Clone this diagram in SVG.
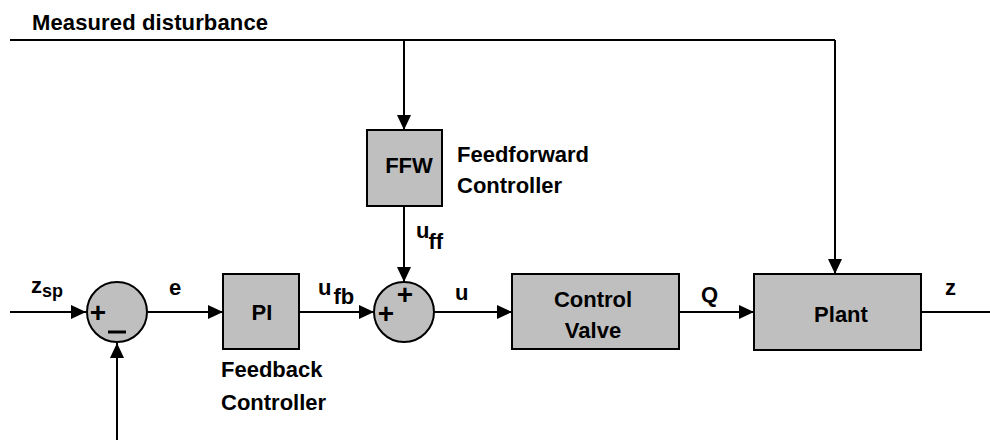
<svg xmlns="http://www.w3.org/2000/svg" width="990" height="447" viewBox="0 0 990 447">
<style>
.t{font-family:"Liberation Sans",Arial,sans-serif;font-weight:bold;font-size:22px;fill:#000}
.s{font-family:"Liberation Sans",Arial,sans-serif;font-weight:bold;font-size:18px;fill:#000}
.p{font-family:"Liberation Sans",Arial,sans-serif;font-weight:bold;font-size:28px;fill:#000}
.blk{fill:#bfbfbf;stroke:#000;stroke-width:2}
.ln{fill:none;stroke:#000;stroke-width:2}
.arr{fill:none;stroke:#000;stroke-width:2;marker-end:url(#ah)}
</style>
<defs>
<marker id="ah" markerUnits="userSpaceOnUse" markerWidth="16" markerHeight="14" refX="15" refY="7" orient="auto">
<path d="M0,0 L15,7 L0,14 Z" fill="#000"/>
</marker>
</defs>
<rect width="990" height="447" fill="#fff"/>
<g id="connectors">
<polyline class="ln" points="10,40 835,40"/>
<line class="arr" x1="404" y1="40" x2="404" y2="130"/>
<line class="arr" x1="835" y1="40" x2="835" y2="274"/>
<line class="arr" x1="10" y1="312" x2="86" y2="312"/>
<line class="arr" x1="148" y1="312" x2="223" y2="312"/>
<line class="arr" x1="299" y1="312" x2="374" y2="312"/>
<line class="arr" x1="404" y1="206" x2="404" y2="282"/>
<line class="arr" x1="434" y1="312" x2="512" y2="312"/>
<line class="arr" x1="679" y1="312" x2="754" y2="312"/>
<line class="ln" x1="921" y1="312" x2="990" y2="312"/>
<line class="arr" x1="117" y1="440" x2="117" y2="343"/>
</g>
<g id="labels">
<text class="t" x="32" y="30" textLength="236">Measured disturbance</text>
<text class="t" x="31" y="293">z<tspan class="s" dy="4">sp</tspan></text>
<text class="t" x="169" y="295">e</text>
<text class="t" x="318" y="295">u<tspan dx="2" dy="9">fb</tspan></text>
<text class="t" x="416" y="238">u<tspan dx="-1" dy="11">ff</tspan></text>
<text class="t" x="455" y="300">u</text>
<text class="t" x="701" y="302">Q</text>
<text class="t" x="945" y="295">z</text>
</g>
<g id="sum1">
<circle class="blk" cx="117" cy="312" r="30"/>
<text class="p" x="98" y="322" text-anchor="middle">+</text>
<line x1="108" y1="332" x2="126" y2="332" stroke="#000" stroke-width="3"/>
</g>
<g id="pi">
<rect class="blk" x="223" y="274" width="76" height="75"/>
<text class="t" x="262" y="320" text-anchor="middle">PI</text>
<text class="t" x="221" y="377">Feedback</text>
<text class="t" x="221" y="410">Controller</text>
</g>
<g id="ffw">
<rect class="blk" x="367" y="130" width="75" height="76"/>
<text class="t" x="409" y="173" text-anchor="middle">FFW</text>
<text class="t" x="457" y="162">Feedforward</text>
<text class="t" x="457" y="193">Controller</text>
</g>
<g id="sum2">
<circle class="blk" cx="404" cy="312" r="30"/>
<text class="p" x="405" y="304" text-anchor="middle">+</text>
<text class="p" x="386" y="323" text-anchor="middle">+</text>
</g>
<g id="valve">
<rect class="blk" x="512" y="274" width="167" height="75"/>
<text class="t" x="593" y="307" text-anchor="middle">Control</text>
<text class="t" x="593" y="338" text-anchor="middle">Valve</text>
</g>
<g id="plant">
<rect class="blk" x="754" y="274" width="167" height="76"/>
<text class="t" x="841" y="322" text-anchor="middle">Plant</text>
</g>
</svg>
